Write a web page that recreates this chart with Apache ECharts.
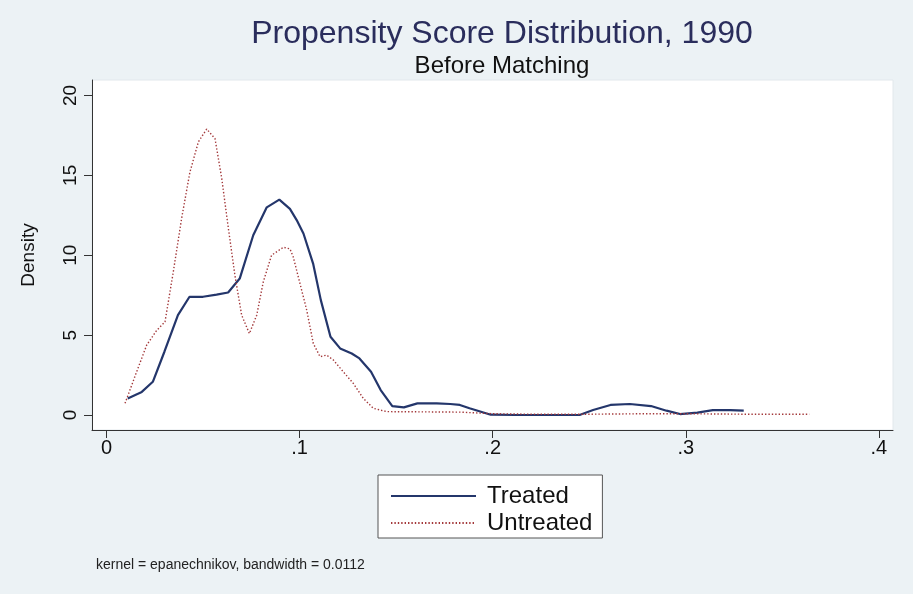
<!DOCTYPE html>
<html>
<head>
<meta charset="utf-8">
<script src="https://cdn.jsdelivr.net/npm/echarts@6/dist/echarts.min.js"></script>
<style>
html,body{margin:0;padding:0;background:#ecf2f5;}
#chart{width:913px;height:594px;}
</style>
</head>
<body>
<div id="chart"></div>
<script>
// ---- data ----
const treatedX = [0.011,0.018,0.024,0.030,0.037,0.043,0.050,0.057,0.063,0.069,0.076,0.083,0.0895,0.095,0.0985,0.102,0.107,0.111,0.116,0.121,0.127,0.131,0.137,0.142,0.148,0.154,0.161,0.171,0.178,0.183,0.188,0.199,0.212,0.245,0.252,0.261,0.271,0.282,0.290,0.297,0.306,0.314,0.323,0.330];
const treatedY = [1.04,1.42,2.08,3.96,6.25,7.40,7.40,7.54,7.67,8.54,11.25,13.0,13.48,12.9,12.2,11.36,9.48,7.19,4.90,4.17,3.85,3.54,2.71,1.56,0.56,0.48,0.73,0.73,0.69,0.63,0.42,0.02,0.0,0.0,0.31,0.63,0.69,0.56,0.27,0.06,0.15,0.31,0.31,0.27];
const untreatedX = [0.0096,0.0156,0.0208,0.026,0.0303,0.0346,0.0389,0.0432,0.0476,0.0519,0.0562,0.0597,0.0631,0.0665,0.070,0.074,0.0778,0.0812,0.0855,0.0916,0.0950,0.0967,0.1002,0.1037,0.1071,0.1106,0.114,0.1175,0.1226,0.1278,0.133,0.1382,0.1451,0.159,0.183,0.200,0.220,0.250,0.280,0.300,0.330,0.364];
const untreatedY = [0.73,2.7,4.37,5.3,5.83,8.96,12.3,15.2,17.1,17.9,17.3,14.8,11.7,8.75,6.25,5.1,6.25,8.33,10.0,10.5,10.4,9.9,8.23,6.56,4.48,3.65,3.75,3.44,2.71,1.98,1.04,0.42,0.21,0.2,0.18,0.08,0.05,0.05,0.08,0.08,0.05,0.05];
const xTicks = [0, 0.1, 0.2, 0.3, 0.4];
const xTickLabels = ['0', '.1', '.2', '.3', '.4'];
const yTicks = [0, 5, 10, 15, 20];
const seriesNames = ['Treated', 'Untreated'];
const titleText = 'Propensity Score Distribution, 1990';
const subtitleText = 'Before Matching';
const noteText = 'kernel = epanechnikov, bandwidth = 0.0112';

const zip = (xs, ys) => xs.map((x, i) => [x, ys[i]]);
const FONT = '"Liberation Sans", Arial, sans-serif';
const NAVY = '#24366b';
const MAROON = '#a3383a';

const chart = echarts.init(document.getElementById('chart'), null, {renderer: 'canvas'});
chart.setOption({
  backgroundColor: '#ecf2f5',
  animation: false,
  title: [{
    text: titleText,
    left: 497, top: 13, textAlign: 'center',
    textStyle: {fontFamily: FONT, fontSize: 32, fontWeight: 'normal', color: '#2a2d5c'}
  }, {
    text: subtitleText,
    left: 497, top: 49, textAlign: 'center',
    textStyle: {fontFamily: FONT, fontSize: 24, fontWeight: 'normal', color: '#111'}
  }, {
    text: noteText,
    left: 91, top: 553,
    textStyle: {fontFamily: FONT, fontSize: 14, fontWeight: 'normal', color: '#222'}
  }],
  grid: {
    left: 92, right: 20, top: 80, bottom: 164,
    show: true, backgroundColor: '#ffffff', borderColor: '#e2e8ec', borderWidth: 1
  },
  legend: {
    show: true,
    orient: 'vertical',
    left: 378, top: 475,
    padding: [9, 10, 3, 12],
    itemGap: 3,
    itemWidth: 85, itemHeight: 14,
    backgroundColor: '#ffffff',
    borderColor: '#555', borderWidth: 1, borderRadius: 0,
    itemStyle: {opacity: 0},
    textStyle: {fontFamily: FONT, fontSize: 24, color: '#111', padding: [0, 0, 0, 6]},
    data: seriesNames
  },
  xAxis: {
    type: 'value',
    min: -0.0075, max: 0.4073,
    splitLine: {show: false},
    axisLine: {show: true, onZero: false, lineStyle: {color: '#333', width: 1}},
    axisTick: {show: true, length: 8, customValues: xTicks, lineStyle: {color: '#333'}},
    axisLabel: {
      customValues: xTicks,
      margin: 8,
      fontFamily: FONT, fontSize: 20, color: '#111',
      formatter: v => { const i = xTicks.findIndex(t => Math.abs(t - v) < 1e-9); return i >= 0 ? xTickLabels[i] : ''; }
    }
  },
  yAxis: {
    type: 'value',
    min: -0.939, max: 20.97,
    name: 'Density', nameLocation: 'middle', nameGap: 54, nameRotate: 90,
    nameTextStyle: {fontFamily: FONT, fontSize: 19, color: '#111'},
    splitLine: {show: false},
    axisLine: {show: true, onZero: false, lineStyle: {color: '#333', width: 1}},
    axisTick: {show: true, length: 8, customValues: yTicks, lineStyle: {color: '#333'}},
    axisLabel: {
      customValues: yTicks, rotate: 90, margin: 12,
      fontFamily: FONT, fontSize: 19, color: '#111'
    }
  },
  series: [{
    name: seriesNames[0], type: 'line', symbol: 'none', smooth: false,
    data: zip(treatedX, treatedY),
    lineStyle: {color: NAVY, width: 2.2},
    itemStyle: {color: NAVY}
  }, {
    name: seriesNames[1], type: 'line', symbol: 'none', smooth: false,
    data: zip(untreatedX, untreatedY),
    lineStyle: {color: MAROON, width: 1.4, type: [1.4, 2]},
    itemStyle: {color: MAROON}
  }]
});
</script>
</body>
</html>
